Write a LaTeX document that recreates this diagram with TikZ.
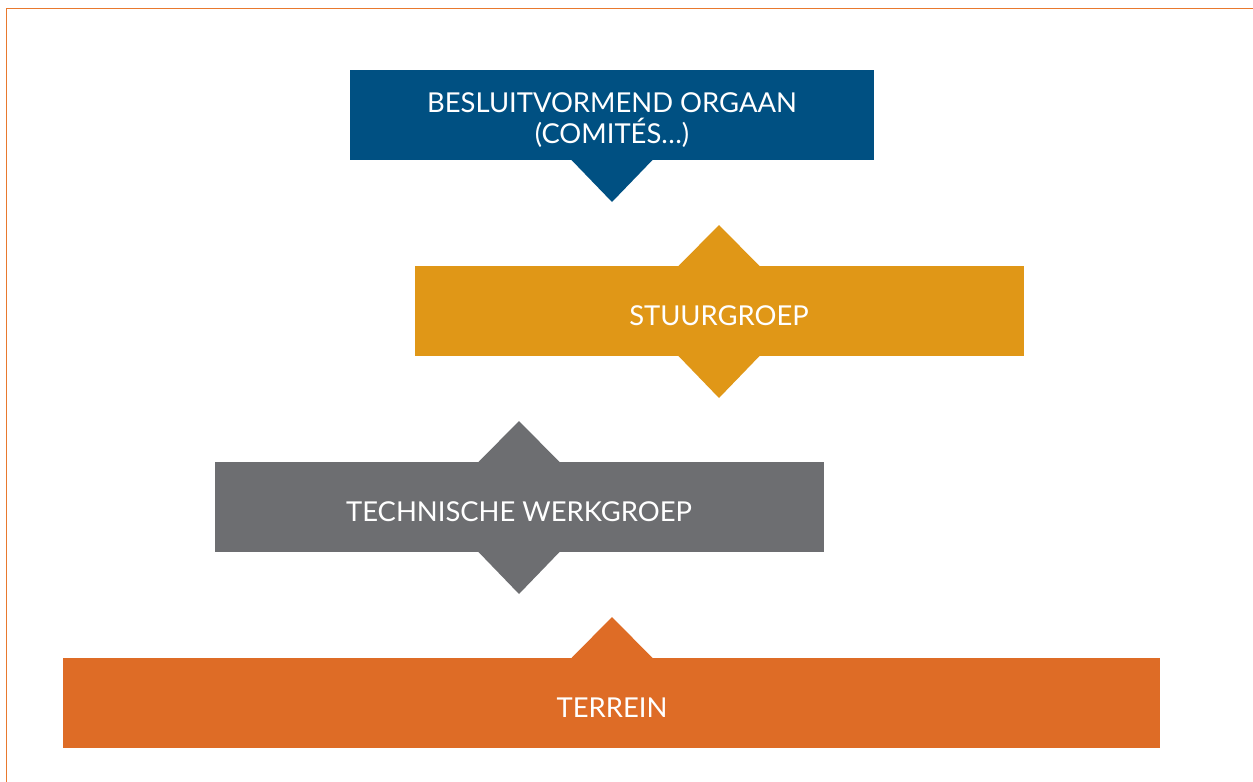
\documentclass[tikz,border=0pt]{standalone}
\usepackage{fontspec}
\setmainfont{Lato}
\definecolor{cblue}{HTML}{005082}
\definecolor{cgold}{HTML}{E09717}
\definecolor{cgray}{HTML}{6D6E71}
\definecolor{corange}{HTML}{DE6C26}
\definecolor{cframe}{HTML}{E8792E}
\begin{document}
\begin{tikzpicture}[x=1bp,y=-1bp,
  box/.style={rectangle,inner sep=0pt,minimum height=90bp,text=white,
    font=\fontsize{27.5}{31}\selectfont,align=center},
]
\useasboundingbox (0,0) rectangle (1253,782);
\fill[white] (0,0) rectangle (1253,782);
\draw[cframe,line width=1.6bp] (6.5,782) -- (6.5,8.5) -- (1253,8.5);
% boxes
\node[box,fill=cblue,minimum width=524bp] (besl) at (612,115) {};
\node[box,fill=cgold,minimum width=609bp] (stuur) at (719.5,311) {};
\node[box,fill=cgray,minimum width=609bp] (tech) at (519.5,507) {};
\node[box,fill=corange,minimum width=1097bp] (terr) at (611.5,703) {};
% pointers
\fill[cblue] (571,159.5) -- (653,159.5) -- (612,202) -- cycle;
\fill[cgold] (678,266.5) -- (719,225) -- (760,266.5) -- cycle;
\fill[cgold] (678,355.5) -- (760,355.5) -- (719,398) -- cycle;
\fill[cgray] (478,462.5) -- (519,421) -- (560,462.5) -- cycle;
\fill[cgray] (478,551.5) -- (560,551.5) -- (519,594) -- cycle;
\fill[corange] (571,658.5) -- (612,617) -- (653,658.5) -- cycle;
% labels
\node[box,anchor=center] (beslt) at (612,120) {BESLUITVORMEND ORGAAN\\(COMITÉS…)};
\node[box] (stuurt) at (719,316) {STUURGROEP};
\node[box] (techt) at (519,512) {TECHNISCHE WERKGROEP};
\node[box] (terrt) at (612,708) {TERREIN};
\end{tikzpicture}
\end{document}
